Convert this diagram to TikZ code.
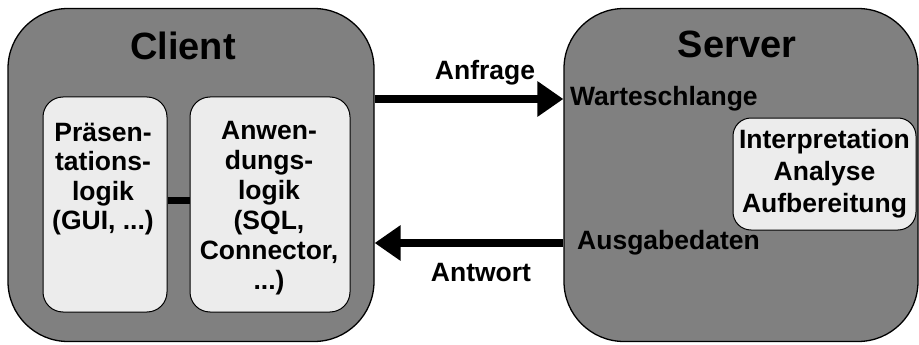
\documentclass[tikz,border=0pt]{standalone}
\usepackage{fontspec}
\setmainfont{Liberation Sans}
\usetikzlibrary{arrows.meta}
\definecolor{outergray}{HTML}{808080}
\definecolor{innergray}{HTML}{ECECEC}
\begin{document}
\begin{tikzpicture}[x=1pt,y=-1pt,
  outerbox/.style={draw=black, line width=1.3pt, fill=outergray, rounded corners=60pt, inner sep=0pt},
  innerbox/.style={draw=black, line width=1pt, fill=innergray, rounded corners=20pt, inner sep=0pt},
  lbl/.style={font=\fontsize{26.5}{30}\selectfont\bfseries, inner sep=0pt, align=center},
  titlelbl/.style={font=\fontsize{38}{40}\selectfont\bfseries, inner sep=0pt},
  bigarrow/.style={line width=8pt, -{Triangle[length=26pt,width=34pt]}}]
\useasboundingbox (0,0) rectangle (919,345);
% outer boxes
\node[outerbox, minimum width=366pt, minimum height=333pt] (client) at (191,175) {};
\node[outerbox, minimum width=354pt, minimum height=333pt] (server) at (741,175) {};
% titles
\node[titlelbl] (clienttitle) at (183,46) {Client};
\node[titlelbl] (servertitle) at (737,44) {Server};
% client inner boxes
\node[innerbox, minimum width=124pt, minimum height=215pt] (praes) at (105,204.5) {};
\node[innerbox, minimum width=160pt, minimum height=215pt] (anw) at (270,204.5) {};
\node[lbl, font=\fontsize{26.5}{29.5}\selectfont\bfseries] (praestext) at (103,179) {Präsen-\\tations-\\logik\\(GUI, ...)};
\node[lbl] (anwtext) at (269,208) {Anwen-\\dungs-\\logik\\(SQL,\\Connector,\\...)};
\draw[line width=7pt] ([yshift=4pt]praes.east) -- ([yshift=4pt]anw.west);
% server content
\node[innerbox, rounded corners=18pt, minimum width=183pt, minimum height=112pt, lbl, font=\fontsize{26.5}{32}\selectfont\bfseries] (proc) at (824.5,174) {Interpretation\\Analyse\\Aufbereitung};
\node[lbl, anchor=west] (war) at (570,99) {Warteschlange};
\node[lbl, anchor=west] (aus) at (577,243) {Ausgabedaten};
% arrows
\draw[bigarrow] (client.east |- war.west) -- (server.west |- war.west);
\draw[bigarrow] (server.west |- aus.west) -- (client.east |- aus.west);
\node[lbl] (anfrage) at (485,73) {Anfrage};
\node[lbl] (antwort) at (481,273) {Antwort};
\end{tikzpicture}
\end{document}
